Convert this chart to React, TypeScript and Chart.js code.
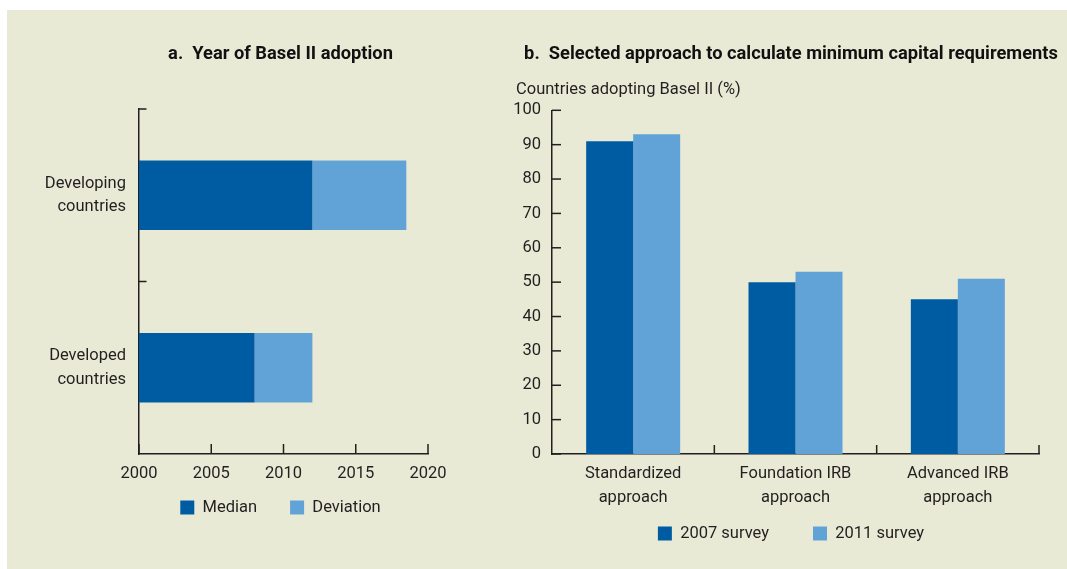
import React, { useEffect, useRef } from 'react';
import { Chart, registerables } from 'chart.js';

Chart.register(...registerables);

// ---------- Data: panel a ----------
const adoptionGroups = [
  ['Developing', 'countries'],
  ['Developed', 'countries'],
];
const axisStartYear = 2000;
const axisEndYear = 2020;
const yearStep = 5;
const medianYear = [2012, 2008];
const deviationYears = [6.5, 4];
const panelASeries = ['Median', 'Deviation'];

// ---------- Data: panel b ----------
const approaches = [
  ['Standardized', 'approach'],
  ['Foundation IRB', 'approach'],
  ['Advanced IRB', 'approach'],
];
const survey2007 = [91, 50, 45];
const survey2011 = [93, 53, 51];
const panelBSeries = ['2007 survey', '2011 survey'];
const shareMin = 0;
const shareMax = 100;
const shareStep = 10;

// ---------- Style ----------
const DARK = '#005ca2';
const LIGHT = '#62a3d7';
const PANEL = '#e8ead6';
const INK = '#231f20';
const FAMILY = "Roboto, 'Liberation Sans', sans-serif";
const FS = 16.5;
const LH = 23.3 / 16.5;
const AXIS_W = 1.5;

Chart.defaults.font.family = FAMILY;

type Mark = { scale: string; values: number[] | 'ticks'; length: number };

function makeInnerTicks(marks: Mark[]) {
  return {
    id: 'innerTicks',
    beforeDraw(chart: any) {
      // let tick labels extend beyond their (fixed-size) axis boxes
      Object.values(chart.scales).forEach((s: any) => {
        s._computeLabelArea = () => undefined;
      });
    },
    afterDraw(chart: any) {
      const ctx = chart.ctx;
      ctx.save();
      ctx.strokeStyle = INK;
      ctx.lineWidth = AXIS_W;
      for (const m of marks) {
        const s = chart.scales[m.scale];
        const values = m.values === 'ticks' ? s.ticks.map((t: any) => t.value) : m.values;
        for (const v of values) {
          const p = s.getPixelForValue(v);
          ctx.beginPath();
          if (s.isHorizontal()) {
            ctx.moveTo(p, s.top);
            ctx.lineTo(p, s.top - m.length);
          } else {
            ctx.moveTo(s.right, p);
            ctx.lineTo(s.right + m.length, p);
          }
          ctx.stroke();
        }
      }
      ctx.restore();
    },
  };
}

const noGrid = { display: false, drawTicks: false, drawOnChartArea: false };
const axisBorder = { display: true, color: INK, width: AXIS_W };
const titleFont = { size: 18.3, weight: 'bold' as const, lineHeight: 1.2, family: FAMILY };
const labelFont = { size: FS, lineHeight: LH, family: FAMILY };

export default function App() {
  const aRef = useRef<HTMLCanvasElement>(null);
  const bRef = useRef<HTMLCanvasElement>(null);

  useEffect(() => {
    const chartA = new Chart(aRef.current as HTMLCanvasElement, {
      type: 'bar',
      data: {
        labels: adoptionGroups as any,
        datasets: [
          {
            label: panelASeries[0],
            data: medianYear.map((m) => [axisStartYear, m]) as any,
            backgroundColor: DARK,
            grouped: false,
            categoryPercentage: 0.404,
            barPercentage: 1,
          },
          {
            label: panelASeries[1],
            data: medianYear.map((m, i) => [m, m + deviationYears[i]]) as any,
            backgroundColor: LIGHT,
            grouped: false,
            categoryPercentage: 0.404,
            barPercentage: 1,
          },
        ],
      },
      options: {
        indexAxis: 'y',
        responsive: false,
        animation: false,
        events: [],
        layout: { padding: { bottom: 43.25 } },
        plugins: {
          title: {
            display: true,
            text: 'a.  Year of Basel II adoption',
            color: '#111',
            font: titleFont,
            padding: { top: 33.8, bottom: 43.24 },
          },
          legend: {
            position: 'bottom',
            labels: { boxWidth: 14, boxHeight: 14, padding: 33, color: INK, font: { size: FS, family: FAMILY } },
          },
          tooltip: { enabled: false },
        },
        scales: {
          x: {
            type: 'linear',
            min: axisStartYear,
            max: axisEndYear,
            z: 1,
            ticks: { stepSize: yearStep, padding: 8.5, color: INK, font: labelFont, callback: (v: any) => String(v) },
            grid: noGrid,
            border: axisBorder,
            afterFit: (s: any) => { s.height = 12.25; },
          },
          y: {
            type: 'category',
            z: 1,
            ticks: { padding: 13, color: INK, font: labelFont },
            grid: noGrid,
            border: axisBorder,
            afterFit: (s: any) => { s.width = 132; },
          },
          yR: {
            type: 'category',
            position: 'right',
            display: true,
            ticks: { display: false },
            grid: noGrid,
            border: { display: false },
            afterFit: (s: any) => { s.width = 126; },
          },
        },
      } as any,
      plugins: [
        makeInnerTicks([
          { scale: 'x', values: 'ticks', length: 10 },
          { scale: 'y', values: [-0.5, 0.5], length: 7.5 },
        ]),
      ],
    });

    const chartB = new Chart(bRef.current as HTMLCanvasElement, {
      type: 'bar',
      data: {
        labels: approaches as any,
        datasets: [
          { label: panelBSeries[0], data: survey2007, backgroundColor: DARK, categoryPercentage: 0.579, barPercentage: 1 },
          { label: panelBSeries[1], data: survey2011, backgroundColor: LIGHT, categoryPercentage: 0.579, barPercentage: 1 },
        ],
      },
      options: {
        responsive: false,
        animation: false,
        events: [],
        layout: { padding: { left: 11, bottom: 17.25 } },
        plugins: {
          title: {
            display: true,
            text: 'b.  Selected approach to calculate minimum capital requirements',
            color: '#111',
            font: titleFont,
            padding: { top: 33.8, bottom: 0 },
          },
          subtitle: {
            display: true,
            text: 'Countries adopting Basel II (%)',
            align: 'start',
            color: INK,
            font: { size: FS, lineHeight: 1.2, family: FAMILY },
            padding: { top: 14.24, bottom: 10.5 },
          },
          legend: {
            position: 'bottom',
            labels: { boxWidth: 14, boxHeight: 14, padding: 44, color: INK, font: { size: FS, family: FAMILY } },
          },
          tooltip: { enabled: false },
        },
        scales: {
          x: {
            type: 'category',
            z: 1,
            ticks: { padding: 8.5, color: INK, font: labelFont, maxRotation: 0, autoSkip: false },
            grid: noGrid,
            border: axisBorder,
            afterFit: (s: any) => { s.height = 27.25; },
          },
          y: {
            type: 'linear',
            min: shareMin,
            max: shareMax,
            z: 1,
            ticks: { stepSize: shareStep, padding: 11, color: INK, font: labelFont },
            grid: noGrid,
            border: axisBorder,
            afterFit: (s: any) => { s.width = 36; },
          },
          yR: {
            type: 'linear',
            position: 'right',
            display: true,
            ticks: { display: false },
            grid: noGrid,
            border: { display: false },
            afterFit: (s: any) => { s.width = 27; },
          },
        },
      } as any,
      plugins: [
        makeInnerTicks([
          { scale: 'y', values: 'ticks', length: 9 },
          { scale: 'x', values: [0.5, 1.5, 2.5], length: 9 },
        ]),
      ],
    });

    return () => {
      chartA.destroy();
      chartB.destroy();
    };
  }, []);

  return (
    <div style={{ position: 'absolute', left: 0, top: 0, width: 1067, height: 569, background: '#fff', overflow: 'hidden' }}>
      <div style={{ position: 'absolute', left: 7, top: 10, width: 1060, height: 559, background: PANEL }} />
      <div style={{ position: 'absolute', left: 7, top: 10, width: 547, height: 559 }}>
        <canvas ref={aRef} width={547} height={559} style={{ display: 'block', width: 547, height: 559 }} />
      </div>
      <div style={{ position: 'absolute', left: 505, top: 10, width: 561, height: 559 }}>
        <canvas ref={bRef} width={561} height={559} style={{ display: 'block', width: 561, height: 559 }} />
      </div>
    </div>
  );
}
